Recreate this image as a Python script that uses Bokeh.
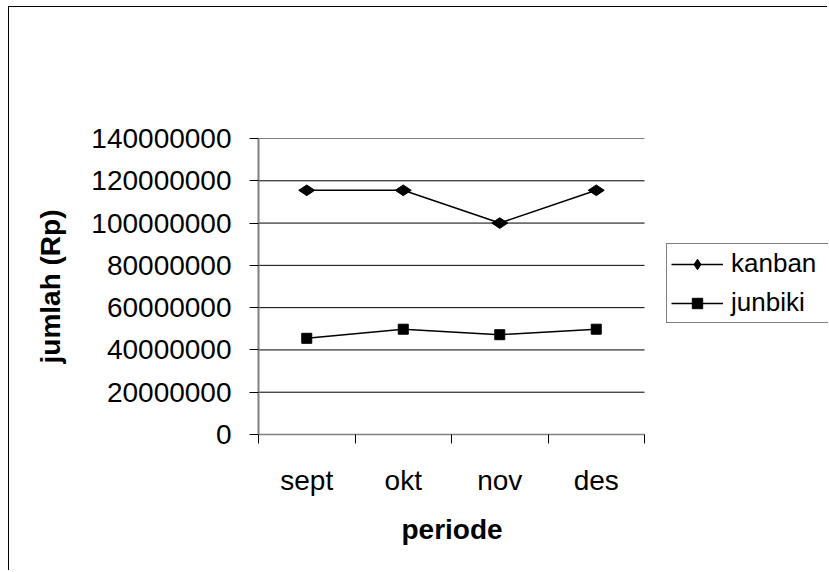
from bokeh.plotting import figure
from bokeh.models import Range1d, FixedTicker, Legend, LegendItem, BasicTickFormatter, Title
from bokeh.embed import file_html
from bokeh.resources import INLINE

categories = ["sept", "okt", "nov", "des"]
kanban = [115500000, 115500000, 100000000, 115500000]
junbiki = [45500000, 49800000, 47200000, 49800000]
y_ticks = [0, 20000000, 40000000, 60000000, 80000000, 100000000, 120000000, 140000000]

FONT = "Liberation Sans"
n = len(categories)
xs = [i + 0.5 for i in range(n)]
boundaries = [float(i) for i in range(n + 1)]

# frame spans from the y axis to the right canvas edge; the category area is 386px of it
W, H = 819, 564
LEFT, TOP, BOTTOM = 249, 131, 137
frame_w = W - LEFT
x_end = n * frame_w / 386.0

p = figure(width=W, height=H, output_backend="svg", toolbar_location=None,
           x_range=Range1d(0, x_end), y_range=Range1d(0, 140000000),
           min_border_left=LEFT, min_border_right=0, min_border_top=TOP, min_border_bottom=BOTTOM)
p.margin = (6, 0, 0, 8)
p.styles = {"border-left": "1.5px solid black", "border-top": "1.5px solid black"}
p.outline_line_color = None
p.background_fill_color = "white"
p.border_fill_color = "white"
p.xgrid.visible = False
p.ygrid.visible = False

# horizontal gridlines over the category area only
p.segment(x0=[0] * len(y_ticks), y0=y_ticks, x1=[n] * len(y_ticks), y1=y_ticks,
          line_color="black", line_width=1)

# x axis
xa = p.xaxis[0]
xa.bounds = (0, n)
xa.ticker = FixedTicker(ticks=xs, minor_ticks=boundaries)
xa.major_label_overrides = {x: c for x, c in zip(xs, categories)}
xa.major_tick_out = 0
xa.major_tick_in = 0
xa.minor_tick_out = 9
xa.minor_tick_in = 0
xa.minor_tick_line_color = "black"
xa.axis_line_color = "#808080"
xa.axis_line_width = 1.5
xa.major_label_text_font = FONT
xa.major_label_text_font_size = "28px"
xa.major_label_text_color = "black"
xa.major_label_standoff = 21

# x axis title, centred under the category area
p.add_layout(Title(text="periode", align="left", offset=143, vertical_align="top", standoff=30,
                   text_font=FONT, text_font_size="28px", text_font_style="bold",
                   text_color="black"), "below")

# y axis
ya = p.yaxis[0]
ya.ticker = FixedTicker(ticks=y_ticks)
ya.formatter = BasicTickFormatter(use_scientific=False)
ya.major_tick_out = 9
ya.major_tick_in = 0
ya.major_tick_line_color = "black"
ya.minor_tick_line_color = None
ya.axis_line_color = "#808080"
ya.axis_line_width = 2
ya.major_label_text_font = FONT
ya.major_label_text_font_size = "28px"
ya.major_label_text_color = "black"
ya.major_label_standoff = 18
ya.axis_label = "jumlah (Rp)"
ya.axis_label_text_font = FONT
ya.axis_label_text_font_size = "28px"
ya.axis_label_text_font_style = "bold"
ya.axis_label_text_color = "black"
ya.axis_label_standoff = 22

l1 = p.line(xs, kanban, line_color="black", line_width=1.5)
m1 = p.scatter(xs, kanban, marker="diamond", angle=1.5708, size=16, fill_color="black", line_color="black")
l2 = p.line(xs, junbiki, line_color="black", line_width=1.5)
m2 = p.scatter(xs, junbiki, marker="square", size=10, fill_color="black", line_color="black")

legend = Legend(items=[LegendItem(label="kanban", renderers=[l1, m1]),
                       LegendItem(label="junbiki", renderers=[l2, m2])],
                location=(408, 111), orientation="vertical",
                label_text_font=FONT, label_text_font_size="26px", label_text_color="black",
                glyph_width=52, glyph_height=26, label_standoff=8, label_width=100,
                padding=4, spacing=8, margin=0,
                border_line_color="black", border_line_width=1,
                background_fill_color="white", background_fill_alpha=1)
p.add_layout(legend, "center")

open("out.html", "w").write(file_html(p, INLINE))
